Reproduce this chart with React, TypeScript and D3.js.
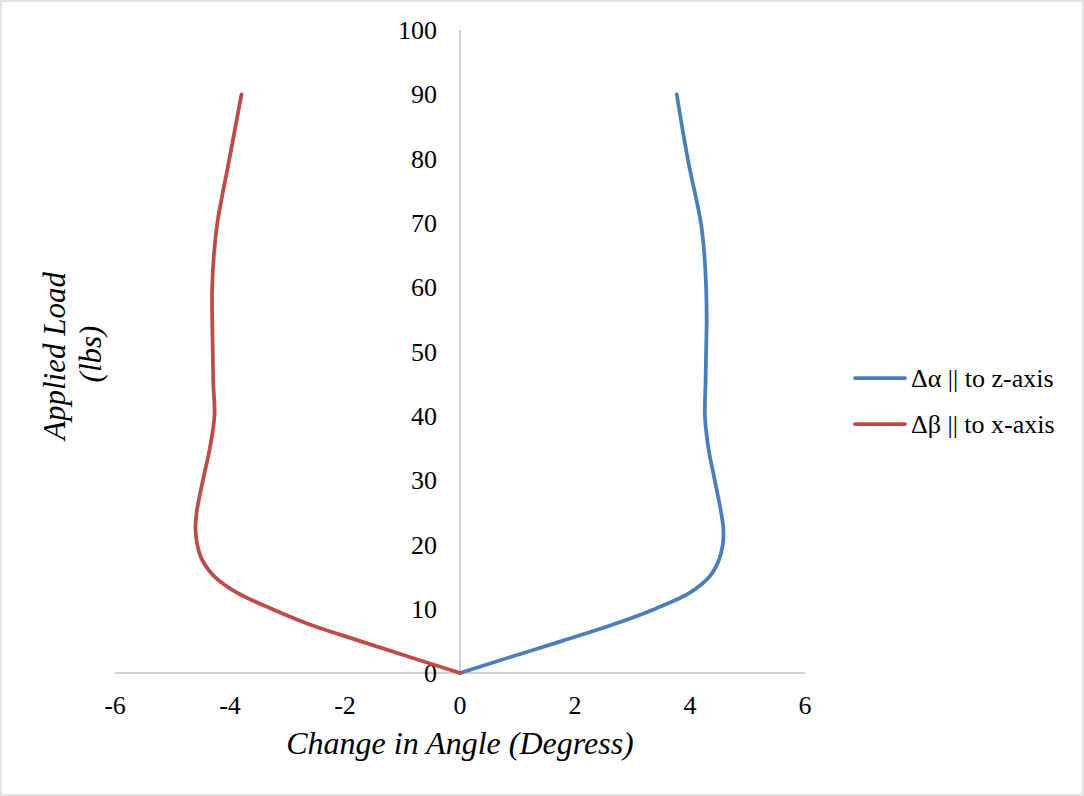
import React from "react";
import * as d3 from "d3";

// load steps (lbs)
const loads = [0, 2.5, 5, 7.5, 10, 12.5, 15, 17.5, 20, 22.5, 25, 30, 35, 40, 45, 50, 55, 60, 65, 70, 80, 90];
// change in angle, degrees
const alphaZ = [0, 0.88, 1.78, 2.65, 3.4, 4.0, 4.34, 4.5, 4.57, 4.58, 4.54, 4.43, 4.32, 4.26, 4.27, 4.28, 4.29, 4.28, 4.25, 4.19, 3.96, 3.77];
const betaX = [0, -0.88, -1.75, -2.6, -3.28, -3.88, -4.27, -4.48, -4.57, -4.6, -4.58, -4.47, -4.35, -4.27, -4.29, -4.3, -4.31, -4.31, -4.28, -4.22, -4.01, -3.8];

const seriesNames = ["Δα || to z-axis", "Δβ || to x-axis"];
const seriesColors = ["#4A7EBB", "#BE4B48"];
const xTicks = [-6, -4, -2, 0, 2, 4, 6];
const yTicks = [0, 10, 20, 30, 40, 50, 60, 70, 80, 90, 100];

const W = 1084;
const H = 796;
const FONT = "Liberation Serif";

export default function App() {
  const x = d3.scaleLinear().domain([-6, 6]).range([115, 805]);
  const y = d3.scaleLinear().domain([0, 100]).range([673, 30]);

  const line = d3
    .line<[number, number]>()
    .x((d) => x(d[0]))
    .y((d) => y(d[1]))
    .curve(d3.curveCatmullRom.alpha(0.5));

  const series = [alphaZ, betaX].map((vals) => vals.map((v, i) => [v, loads[i]] as [number, number]));

  return (
    <svg
      width={W}
      height={H}
      style={{ position: "absolute", left: 0, top: 0, display: "block", background: "#fff", fontFamily: FONT }}
    >
      <rect x={1} y={1} width={W - 2} height={H - 2} fill="#fff" stroke="#D9D9D9" strokeWidth={1.5} />

      {/* axes */}
      <line x1={x(-6)} x2={x(6)} y1={y(0)} y2={y(0)} stroke="#BFBFBF" strokeWidth={1.5} />
      <line x1={x(0)} x2={x(0)} y1={y(0)} y2={y(100)} stroke="#BFBFBF" strokeWidth={1.5} />

      {yTicks.map((t) => (
        <text key={"y" + t} x={437} y={y(t)} dy="0.35em" textAnchor="end" fontSize={26} fill="#000">
          {t}
        </text>
      ))}
      {xTicks.map((t) => (
        <text key={"x" + t} x={x(t)} y={705} dy="0.35em" textAnchor="middle" fontSize={26} fill="#000">
          {t}
        </text>
      ))}

      {series.map((pts, i) => (
        <path key={i} d={line(pts) || ""} fill="none" stroke={seriesColors[i]} strokeWidth={3.75} strokeLinecap="round" strokeLinejoin="round" />
      ))}

      {/* axis titles */}
      <text x={460} y={754} textAnchor="middle" fontSize={32} fontStyle="italic" fill="#000">
        Change in Angle (Degress)
      </text>
      <g transform="translate(65,356) rotate(-90)">
        <text x={0} y={0} textAnchor="middle" fontSize={31} fontStyle="italic" fill="#000">
          Applied Load
        </text>
      </g>
      <g transform="translate(101,354) rotate(-90)">
        <text x={0} y={0} textAnchor="middle" fontSize={31} fontStyle="italic" fill="#000">
          (lbs)
        </text>
      </g>

      {/* legend */}
      {seriesNames.map((name, i) => (
        <g key={name} transform={`translate(0,${378 + i * 46})`}>
          <line x1={855} x2={905} y1={0} y2={0} stroke={seriesColors[i]} strokeWidth={3.75} strokeLinecap="round" />
          <text x={911} y={0} dy="0.35em" fontSize={26} fill="#000">
            {name}
          </text>
        </g>
      ))}
    </svg>
  );
}
